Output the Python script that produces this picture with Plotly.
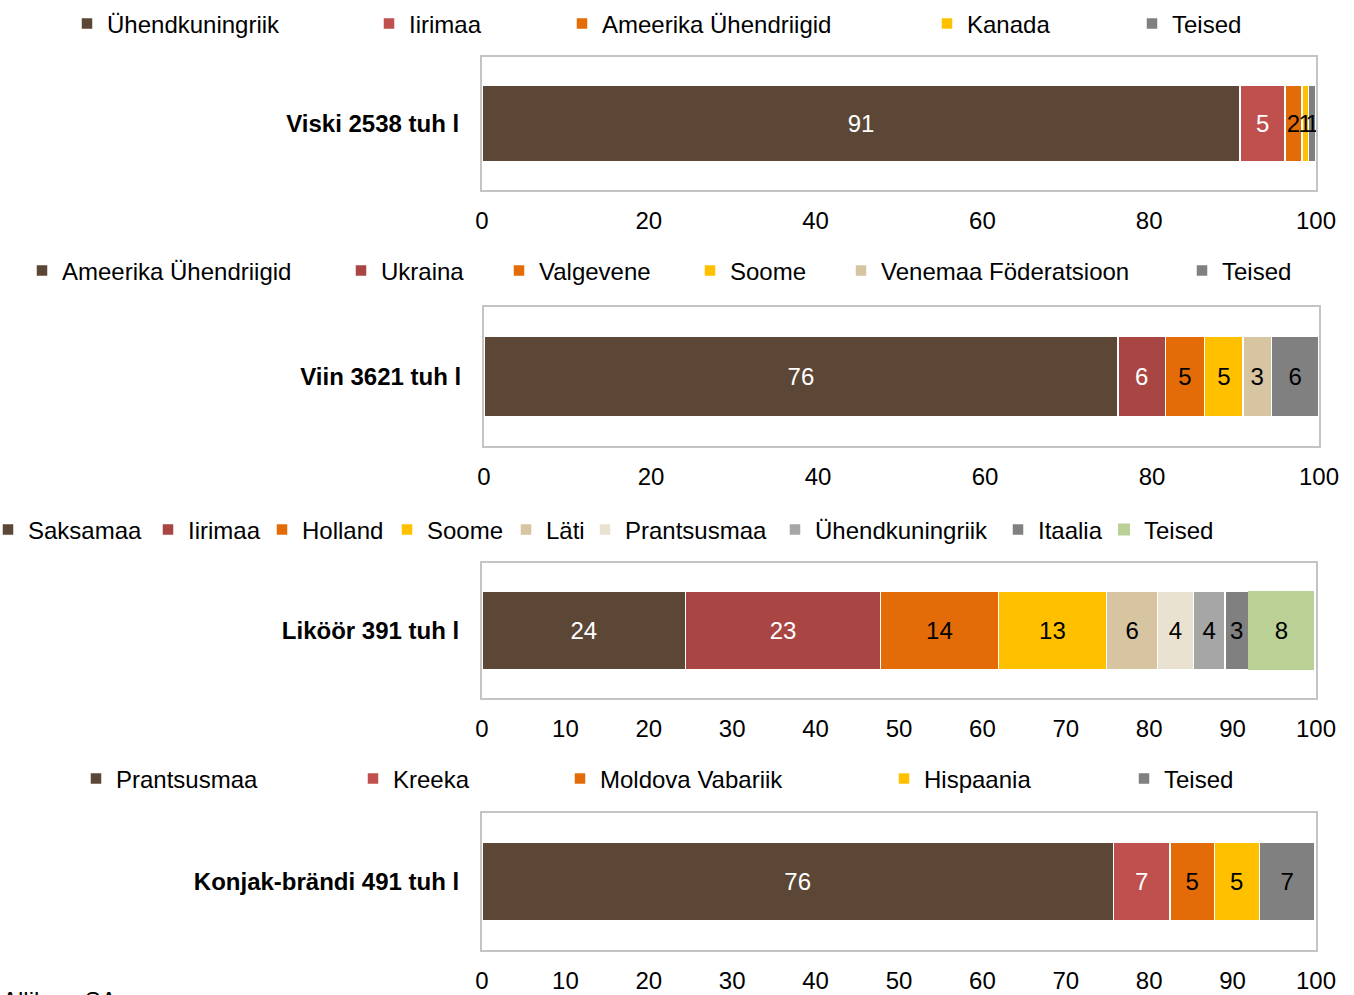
import plotly.graph_objects as go

# ---------------- data ----------------
cat1 = "Viski 2538 tuh l"
names1 = ["Ühendkuningriik", "Iirimaa", "Ameerika Ühendriigid", "Kanada", "Teised"]
vals1 = [90.9, 5.4, 2.0, 0.8, 0.9]

cat2 = "Viin 3621 tuh l"
names2 = ["Ameerika Ühendriigid", "Ukraina", "Valgevene", "Soome", "Venemaa Föderatsioon", "Teised"]
vals2 = [75.9, 5.7, 4.7, 4.6, 3.4, 5.7]

cat3 = "Liköör 391 tuh l"
names3 = ["Saksamaa", "Iirimaa", "Holland", "Soome", "Läti", "Prantsusmaa", "Ühendkuningriik", "Itaalia", "Teised"]
vals3 = [24.4, 23.4, 14.1, 13.0, 6.1, 4.3, 3.8, 2.8, 7.9]

cat4 = "Konjak-brändi 491 tuh l"
names4 = ["Prantsusmaa", "Kreeka", "Moldova Vabariik", "Hispaania", "Teised"]
vals4 = [75.7, 6.8, 5.3, 5.4, 6.7]

source_text = "Allikas: SA"

# ---------------- styles ----------------
BROWN = "#5C4737"
RED = "#C0504D"
DRED = "#A94643"
ORANGE = "#E36C09"
YELLOW = "#FFC000"
TAN = "#D7C4A0"
CREAM = "#EAE2D0"
LGRAY = "#A6A6A6"
GRAY = "#808080"
GREEN = "#BBD095"

colors1 = [BROWN, RED, ORANGE, YELLOW, GRAY]
colors2 = [BROWN, DRED, ORANGE, YELLOW, TAN, GRAY]
colors3 = [BROWN, DRED, ORANGE, YELLOW, TAN, CREAM, LGRAY, GRAY, GREEN]
colors4 = [BROWN, RED, ORANGE, YELLOW, GRAY]

def txtcol(c):
    return "white" if c in (BROWN, RED, DRED) else "black"

def border_w(c):
    return 0 if c == GREEN else 1.5

W, H = 1354, 995
FONT = "Liberation Sans, Arial, sans-serif"

panels = [
    dict(cat=cat1, names=names1, vals=vals1, colors=colors1,
         xd=(482, 1316), yd=(57, 190), dtick=20, legy=24,
         legx=[108, 410, 603, 968, 1173]),
    dict(cat=cat2, names=names2, vals=vals2, colors=colors2,
         xd=(484, 1319), yd=(307, 446), dtick=20, legy=271,
         legx=[63, 382, 540, 731, 882, 1223]),
    dict(cat=cat3, names=names3, vals=vals3, colors=colors3,
         xd=(482, 1316), yd=(563, 698), dtick=10, legy=530,
         legx=[29, 189, 303, 428, 547, 626, 816, 1039, 1145]),
    dict(cat=cat4, names=names4, vals=vals4, colors=colors4,
         xd=(482, 1316), yd=(813, 950), dtick=10, legy=779,
         legx=[117, 394, 601, 925, 1165]),
]

TEXT_OFFSET = 41  # px from legend left edge to item text

def px_x(v):
    return v / W

def px_y(v):
    return 1 - v / H

fig = go.Figure()
layout = dict(
    width=W, height=H,
    margin=dict(l=0, r=0, t=0, b=0, autoexpand=False),
    paper_bgcolor="white", plot_bgcolor="white",
    barmode="stack", bargap=0.42, showlegend=True,
    font=dict(family=FONT, size=24, color="black"),
)

leg_n = 0
for i, p in enumerate(panels):
    ax = "" if i == 0 else str(i + 1)
    for name, v, c, lx in zip(p["names"], p["vals"], p["colors"], p["legx"]):
        leg_n += 1
        lid = "legend" if leg_n == 1 else f"legend{leg_n}"
        fig.add_trace(go.Bar(
            x=[v], y=[p["cat"]], orientation="h", name=name,
            marker=dict(color=c, line=dict(color="white", width=border_w(c))),
            texttemplate="%{x:.0f}", textposition="inside",
            insidetextanchor="middle", constraintext="none",
            textfont=dict(size=24, color=txtcol(c), family=FONT),
            xaxis="x" + ax, yaxis="y" + ax, legend=lid,
            showlegend=True, hoverinfo="skip",
        ))
        layout[lid] = dict(
            x=px_x(lx - TEXT_OFFSET), xanchor="left",
            y=px_y(p["legy"]), yanchor="middle",
            orientation="h", bgcolor="rgba(0,0,0,0)",
            font=dict(size=24, family=FONT, color="black"),
            itemclick=False, itemdoubleclick=False,
        )
    x0, x1 = p["xd"]
    y0, y1 = p["yd"]
    layout["xaxis" + ax] = dict(
        domain=[px_x(x0), px_x(x1)], range=[0, 100], dtick=p["dtick"],
        anchor="y" + ax, showgrid=False, zeroline=False, automargin=False,
        showline=True, mirror=True, linecolor="#C4C4C4", linewidth=2,
        ticks="", ticklabelstandoff=8,
        tickfont=dict(size=24, family=FONT, color="black"),
    )
    layout["yaxis" + ax] = dict(
        domain=[px_y(y1), px_y(y0)], anchor="x" + ax, automargin=False,
        showgrid=False, zeroline=False,
        showline=True, mirror=True, linecolor="#C4C4C4", linewidth=2,
        ticks="", ticklabelstandoff=16,
        tickfont=dict(size=24, family=FONT, color="black", weight="bold"),
    )

layout["annotations"] = [dict(
    text=source_text, xref="paper", yref="paper", x=px_x(0), y=px_y(985),
    xanchor="left", yanchor="top", showarrow=False,
    font=dict(size=24, family=FONT, color="black"),
)]

fig.update_layout(**layout)
fig.write_html(
    "out.html",
    config={"displayModeBar": False},
    post_script="document.body.style.margin='0';document.body.style.overflow='hidden';",
)
